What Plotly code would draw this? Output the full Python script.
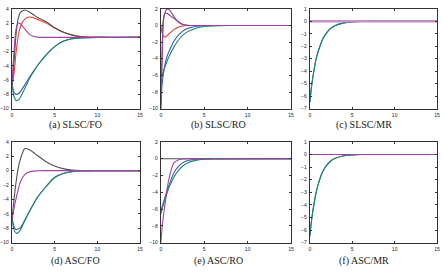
import plotly.graph_objects as go

# ---------------- data ----------------
xa = [0, 0.25, 0.5, 0.75, 1, 1.5, 2, 2.5, 3, 4, 5, 6, 7, 8, 10, 15]
a_gray   = [-7, -3.5, 0.6, 2.7, 3.5, 3.85, 3.6, 3.2, 2.8, 2.2, 1.35, 0.75, 0.35, 0.12, 0, 0]
a_red    = [-7, -5.0, -2.0, 0.3, 1.5, 2.55, 2.85, 2.75, 2.5, 2.0, 1.3, 0.72, 0.34, 0.12, 0, 0]
a_purple = [-7, -2.0, 1.2, 2.0, 1.9, 1.2, 0.5, 0.15, 0.03, 0, 0, 0, 0, 0, 0, 0]
a_blue   = [-6.3, -7.7, -8.0, -7.9, -7.6, -6.7, -5.7, -4.8, -3.95, -2.45, -1.3, -0.55, -0.2, -0.07, 0, 0]
a_green  = [-6.5, -8.3, -8.85, -8.8, -8.4, -7.2, -5.9, -4.9, -3.95, -2.5, -1.3, -0.55, -0.2, -0.07, 0, 0]

xb = [0, 0.15, 0.3, 0.5, 0.75, 1, 1.5, 2, 2.5, 3, 4, 5, 6, 8, 15]
b_purple = [-10, -4, 0.5, 1.6, 2.0, 1.85, 1.1, 0.45, 0.12, 0.02, 0, 0, 0, 0, 0]
b_gray   = [-10, -3, 0.8, 1.5, 1.45, 1.25, 0.85, 0.45, 0.15, 0.03, 0, 0, 0, 0, 0]
b_red    = [0, -0.9, -1.3, -1.4, -1.2, -0.95, -0.5, -0.2, -0.07, 0, 0, 0, 0, 0, 0]
b_blue   = [-9.5, -7, -5.8, -4.6, -3.6, -3.0, -1.9, -1.2, -0.7, -0.4, -0.12, -0.03, 0, 0, 0]
b_green  = [-6.5, -6, -5.5, -4.9, -4.2, -3.6, -2.6, -1.8, -1.2, -0.8, -0.35, -0.12, -0.04, 0, 0]

xc = [0, 0.25, 0.5, 0.75, 1, 1.5, 2, 2.5, 3, 4, 5, 6, 7, 15]
c_green = [-6.5, -5.0, -3.9, -3.0, -2.4, -1.45, -0.9, -0.55, -0.33, -0.12, -0.04, -0.01, 0, 0]
c_flat  = [0] * len(xc)

xd = [0, 0.25, 0.5, 0.75, 1, 1.5, 2, 2.5, 3, 4, 5, 6, 7, 8, 10, 15]
d_gray   = [-7, -4.0, -1.5, 0.4, 1.6, 3.05, 2.95, 2.55, 2.1, 1.25, 0.65, 0.28, 0.1, 0.03, 0, 0]
d_purple = [-7, -5.2, -3.8, -2.6, -1.5, -0.55, -0.2, -0.06, -0.02, 0, 0, 0, 0, 0, 0, 0]
d_blue   = [-6.3, -7.8, -8.2, -8.1, -7.9, -6.9, -5.75, -4.7, -3.7, -2.2, -0.95, -0.4, -0.13, -0.04, 0, 0]
d_green  = [-6.5, -8.2, -8.7, -8.6, -8.2, -7.0, -5.8, -4.7, -3.7, -2.2, -0.95, -0.4, -0.13, -0.04, 0, 0]

xe = [0, 0.15, 0.3, 0.5, 0.75, 1, 1.5, 2, 2.5, 3, 4, 5, 6, 15]
e_purple = [-10, -8.2, -6.8, -5.3, -3.4, -2.1, -0.5, -0.15, -0.04, 0, 0, 0, 0, 0]
e_blue   = [-6.3, -5.7, -5.2, -4.5, -3.7, -3.0, -1.7, -0.95, -0.5, -0.25, -0.06, 0, 0, 0]
e_green  = [-6.6, -6.0, -5.5, -4.8, -4.0, -3.3, -2.2, -1.45, -0.9, -0.55, -0.2, -0.06, -0.02, 0]
e_flat   = [0] * len(xe)

xf = [0, 0.25, 0.5, 0.75, 1, 1.5, 2, 2.5, 3, 4, 5, 6, 7, 15]
f_green = [-6.5, -5.0, -3.9, -3.0, -2.35, -1.4, -0.85, -0.5, -0.3, -0.1, -0.03, 0, 0, 0]
f_flat  = [0] * len(xf)

captions = ["(a) SLSC/FO", "(b) SLSC/RO", "(c) SLSC/MR",
            "(d) ASC/FO", "(e) ASC/RO", "(f) ASC/MR"]
x_ticks = [0, 5, 10, 15]
yticks_fo = [-10, -8, -6, -4, -2, 0, 2, 4]
yticks_ro = [-10, -8, -6, -4, -2, 0, 2]
yticks_mr = [-7, -6, -5, -4, -3, -2, -1, 0, 1]

# ---------------- styling ----------------
GRAY, RED, PURPLE, BLUE, GREEN = "#505050", "#e8412c", "#a040a8", "#3a55c8", "#1e8a64"
W, H = 444, 274

def px_dom(a, b, total):
    return [a / total, b / total]

def py_dom(top, bottom):
    return [1 - bottom / H, 1 - top / H]

panels = [
    (9, 139, 6, 108, [-10, 4], yticks_fo),
    (160, 292, 6, 108, [-10, 2], yticks_ro),
    (311, 440, 6, 108, [-7, 1], yticks_mr),
    (9, 139, 142, 245, [-10, 4], yticks_fo),
    (160, 292, 142, 245, [-10, 2], yticks_ro),
    (311, 440, 142, 245, [-7, 1], yticks_mr),
]
cap_x = [73, 218, 366, 73, 218, 366]
cap_y = [125, 125, 125, 264, 264, 264]

series = [
    [(xa, a_blue, BLUE), (xa, a_green, GREEN), (xa, a_red, RED), (xa, a_gray, GRAY), (xa, a_purple, PURPLE)],
    [(xb, b_blue, BLUE), (xb, b_green, GREEN), (xb, b_red, RED), (xb, b_gray, GRAY), (xb, b_purple, PURPLE)],
    [(xc, c_green, BLUE), (xc, c_green, GREEN), (xc, c_flat, GRAY), (xc, c_flat, RED), (xc, c_flat, "#c68ec8")],
    [(xd, d_blue, BLUE), (xd, d_green, GREEN), (xd, d_gray, GRAY), (xd, d_purple, PURPLE)],
    [(xe, e_blue, BLUE), (xe, e_green, GREEN), (xe, e_flat, GRAY), (xe, e_purple, PURPLE)],
    [(xf, f_green, BLUE), (xf, f_green, GREEN), (xf, f_flat, GRAY), (xf, f_flat, PURPLE)],
]

fig = go.Figure()
layout = dict(width=W, height=H, margin=dict(l=0, r=0, t=0, b=0),
              paper_bgcolor="white", plot_bgcolor="white", showlegend=False)
annotations = []
axis_common = dict(showline=True, mirror="ticks", linecolor="#333", linewidth=1,
                   ticks="inside", ticklen=2, tickwidth=0.8, tickcolor="#333",
                   showgrid=False, zeroline=False,
                   tickfont=dict(size=5, color="#222", family="Liberation Sans"))

for i, (xl, xr, yt, yb, yr, yt_vals) in enumerate(panels):
    n = i + 1
    xs = "x" if n == 1 else f"x{n}"
    ys = "y" if n == 1 else f"y{n}"
    for (xx, yy, col) in series[i]:
        w = 2.2 if (i == 2 and col == "#c68ec8") else 1.1
        fig.add_trace(go.Scatter(x=xx, y=yy, mode="lines",
                                 line=dict(color=col, width=w, shape="spline", smoothing=0.8),
                                 xaxis=xs, yaxis=ys, hoverinfo="skip"))
    layout["xaxis" if n == 1 else f"xaxis{n}"] = dict(
        domain=px_dom(xl, xr, W), anchor=ys, range=[0, 15], tickvals=x_ticks,
        ticklabelstandoff=1, **axis_common)
    layout["yaxis" if n == 1 else f"yaxis{n}"] = dict(
        domain=py_dom(yt, yb), anchor=xs, range=yr, tickvals=yt_vals,
        ticklabelstandoff=1, **axis_common)
    annotations.append(dict(text=captions[i], x=cap_x[i] / W, y=1 - cap_y[i] / H,
                            xref="paper", yref="paper", showarrow=False,
                            xanchor="center", yanchor="middle",
                            font=dict(family="Liberation Serif", size=10, color="#222")))

layout["annotations"] = annotations
fig.update_layout(**layout)
fig.write_html("out.html")
